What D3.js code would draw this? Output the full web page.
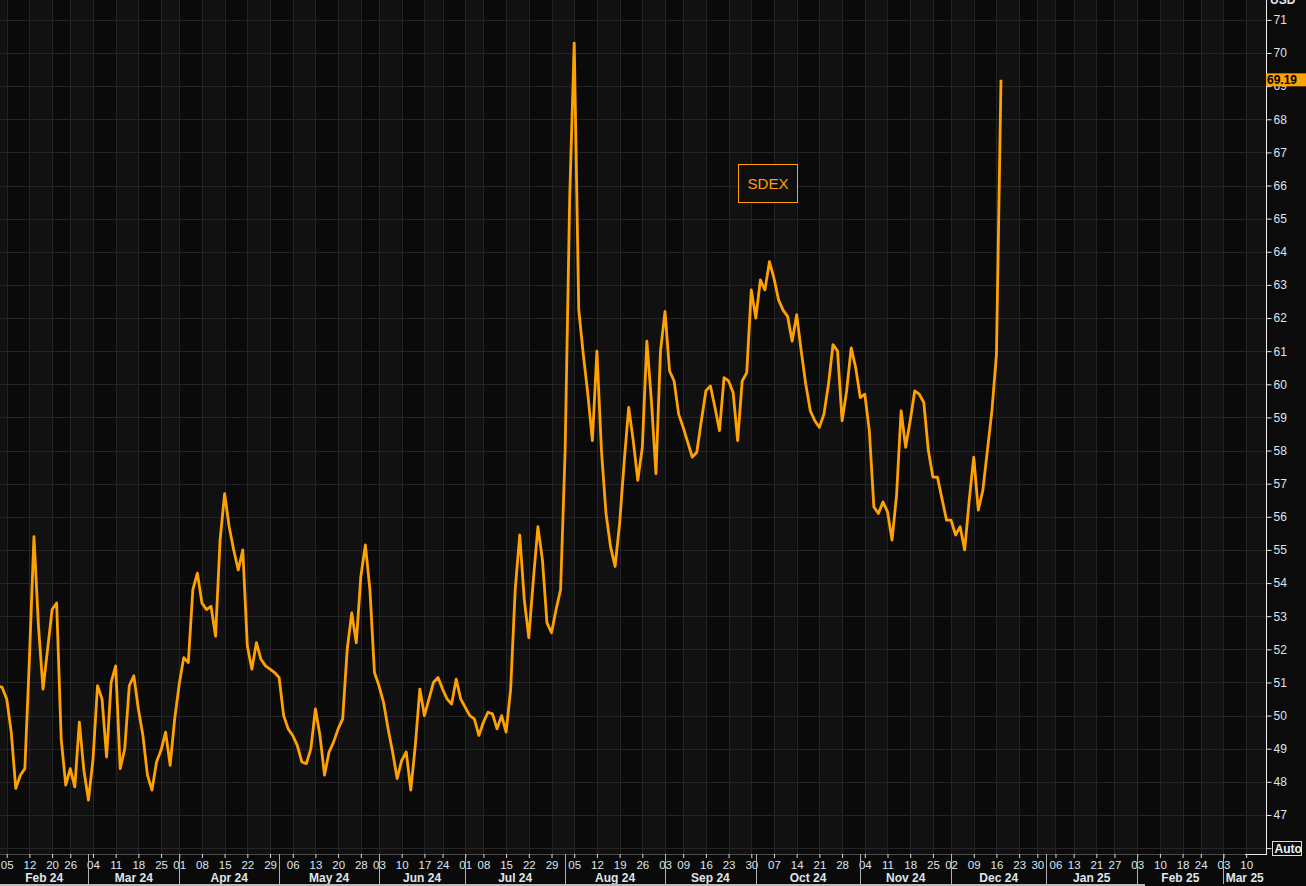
<!DOCTYPE html>
<html><head><meta charset="utf-8">
<script src="https://cdn.jsdelivr.net/npm/d3@7"></script>
<style>
html,body{margin:0;padding:0;background:#0b0b0b;overflow:hidden}
svg{display:block;font-family:"Liberation Sans",Arial,sans-serif}
</style></head><body>
<svg id="chart" width="1306" height="886"></svg>
<script>
const seriesName = "SDEX";
const currency = "USD";
const lastValueLabel = "69.19";
const startDate = "2024-02-01";
const endDate = "2025-03-14";
const holidays = ["2024-02-19","2024-03-29","2024-05-27","2024-06-19","2024-07-04","2024-09-02",
  "2024-11-28","2024-12-25","2025-01-01","2025-01-09","2025-01-20","2025-02-17"];

// one value per trading day starting 2024-02-01
const values = [
 50.9,50.85,50.5,49.5,47.8,48.2,48.4,51.7,55.4,52.7,
 50.8,52.0,53.2,53.4,49.3,47.9,48.4,47.85,49.8,48.35,
 47.45,48.66,50.9,50.5,48.75,51.0,51.5,48.4,49.0,50.9,
 51.2,50.2,49.4,48.2,47.75,48.6,48.96,49.5,48.5,49.9,
 50.95,51.75,51.6,53.8,54.3,53.4,53.2,53.3,52.4,55.3,
 56.7,55.7,55.0,54.4,55.0,52.1,51.4,52.2,51.7,51.5,
 51.4,51.3,51.15,50.0,49.6,49.4,49.1,48.6,48.55,49.0,
 50.2,49.4,48.2,48.9,49.2,49.6,49.9,52.0,53.1,52.2,
 54.2,55.15,53.8,51.3,50.9,50.4,49.6,48.9,48.1,48.65,
 48.9,47.75,49.1,50.8,50.0,50.5,51.0,51.15,50.8,50.5,
 50.35,51.1,50.5,50.25,50.0,49.9,49.4,49.8,50.1,50.05,
 49.6,50.0,49.5,50.8,53.8,55.45,53.5,52.35,54.1,55.7,
 54.7,52.8,52.5,53.2,53.8,58.0,65.6,70.3,62.25,60.9,
 59.7,58.3,61.0,58.0,56.1,55.1,54.5,55.8,57.65,59.3,
 58.3,57.1,58.1,61.3,59.5,57.3,61.0,62.2,60.4,60.1,
 59.1,58.7,58.25,57.8,57.95,58.9,59.8,59.95,59.3,58.6,
 60.2,60.1,59.75,58.3,60.1,60.35,62.85,62.0,63.15,62.85,
 63.7,63.2,62.55,62.24,62.05,61.3,62.1,61.0,60.0,59.2,
 58.9,58.7,59.1,60.0,61.2,61.0,58.9,59.8,61.1,60.5,
 59.6,59.7,58.6,56.3,56.1,56.45,56.15,55.3,56.65,59.2,
 58.1,58.9,59.8,59.7,59.45,58.0,57.2,57.2,56.55,55.9,
 55.9,55.45,55.7,55.0,56.5,57.8,56.2,56.8,58.0,59.2,
 60.9,69.19
];

const weekTicks = [
 "2024-02-05","2024-02-12","2024-02-20","2024-02-26",
 "2024-03-04","2024-03-11","2024-03-18","2024-03-25",
 "2024-04-01","2024-04-08","2024-04-15","2024-04-22","2024-04-29",
 "2024-05-06","2024-05-13","2024-05-20","2024-05-28",
 "2024-06-03","2024-06-10","2024-06-17","2024-06-24",
 "2024-07-01","2024-07-08","2024-07-15","2024-07-22","2024-07-29",
 "2024-08-05","2024-08-12","2024-08-19","2024-08-26",
 "2024-09-03","2024-09-09","2024-09-16","2024-09-23","2024-09-30",
 "2024-10-07","2024-10-14","2024-10-21","2024-10-28",
 "2024-11-04","2024-11-11","2024-11-18","2024-11-25",
 "2024-12-02","2024-12-09","2024-12-16","2024-12-23","2024-12-30",
 "2025-01-06","2025-01-13","2025-01-21","2025-01-27",
 "2025-02-03","2025-02-10","2025-02-18","2025-02-24",
 "2025-03-03","2025-03-10"
];
const monthLabels = ["Feb 24","Mar 24","Apr 24","May 24","Jun 24","Jul 24","Aug 24",
  "Sep 24","Oct 24","Nov 24","Dec 24","Jan 25","Feb 25","Mar 25"];
const yTicks = [46,47,48,49,50,51,52,53,54,55,56,57,58,59,60,61,62,63,64,65,66,67,68,69,70,71];

// ---- trading calendar ----
function tradingDays(start, end) {
  const hs = new Set(holidays), out = [];
  const d = new Date(start + "T00:00:00Z"), e = new Date(end + "T00:00:00Z");
  while (d <= e) {
    const wd = d.getUTCDay(), s = d.toISOString().slice(0, 10);
    if (wd !== 0 && wd !== 6 && !hs.has(s)) out.push(s);
    d.setUTCDate(d.getUTCDate() + 1);
  }
  return out;
}
const days = tradingDays(startDate, endDate);
const dayIndex = new Map(days.map((d, i) => [d, i]));

const W = 1306, H = 886;
const plotR = 1266, plotB = 854;
const x = d3.scaleLinear().domain([0.524, 279.37]).range([0, plotR]);
const y = d3.scaleLinear().domain([46, 71]).range([848.1, 19.87]);

const svg = d3.select("#chart");
svg.append("rect").attr("width", W).attr("height", H).attr("fill", "#0b0b0b");

const tickIdx = weekTicks.map(d => dayIndex.get(d));
const plot = svg.append("g");

// alternating weekly bands
const bandEdges = [0, ...tickIdx.map(i => x(i)), plotR];
for (let k = 0; k < bandEdges.length - 1; k++) {
  plot.append("rect")
    .attr("x", bandEdges[k]).attr("y", 0)
    .attr("width", bandEdges[k + 1] - bandEdges[k]).attr("height", plotB)
    .attr("fill", k % 2 === 0 ? "#111111" : "#0a0a0a");
}
// grid
plot.selectAll("line.hg").data(yTicks).join("line")
  .attr("x1", 0).attr("x2", plotR)
  .attr("y1", d => Math.round(y(d)) + 0.5).attr("y2", d => Math.round(y(d)) + 0.5)
  .attr("stroke", "#242424").attr("stroke-width", 1);
plot.selectAll("line.vg").data(tickIdx).join("line")
  .attr("x1", d => Math.round(x(d)) + 0.5).attr("x2", d => Math.round(x(d)) + 0.5)
  .attr("y1", 0).attr("y2", plotB)
  .attr("stroke", "#242424").attr("stroke-width", 1);

// series line
svg.append("defs").append("clipPath").attr("id", "clip")
  .append("rect").attr("x", 0).attr("y", 0).attr("width", plotR).attr("height", plotB);
const line = d3.line().x((d, i) => x(i)).y(d => y(d));
svg.append("path").datum(values)
  .attr("clip-path", "url(#clip)")
  .attr("d", line).attr("fill", "none")
  .attr("stroke", "#ffa200").attr("stroke-width", 2.8)
  .attr("stroke-linejoin", "round");

// legend box
const lg = svg.append("g");
lg.append("rect").attr("x", 738.5).attr("y", 164.5).attr("width", 59).attr("height", 38)
  .attr("fill", "#0f0f0f").attr("stroke", "#ffa200").attr("stroke-width", 1);
lg.append("text").attr("x", 768).attr("y", 189).attr("text-anchor", "middle")
  .attr("fill", "#ffa200").attr("font-size", 15).text(seriesName);

// x axis
const txtCol = "#dfe5ee";
svg.append("rect").attr("x", 0).attr("y", plotB).attr("width", W).attr("height", H - plotB).attr("fill", "#0a0a0a");
svg.append("line").attr("x1", 0).attr("x2", plotR).attr("y1", plotB + 0.5).attr("y2", plotB + 0.5)
  .attr("stroke", "#4a4a4a");
svg.append("line").attr("x1", 1245).attr("x2", plotR).attr("y1", plotB + 0.5).attr("y2", plotB + 0.5)
  .attr("stroke", "#e8e8e8");
const xAxis = d3.axisBottom(x).tickValues(tickIdx).tickSize(4).tickPadding(3)
  .tickFormat(i => days[i].slice(8, 10));
const gx = svg.append("g").attr("transform", `translate(0,${plotB})`).call(xAxis);
gx.select(".domain").remove();
gx.selectAll(".tick line").attr("stroke", "#d8d8d8");
gx.selectAll(".tick text").attr("fill", txtCol).attr("font-size", 11.5)
  .attr("font-family", "Liberation Sans, Arial, sans-serif");

// month separators and labels
const monthStart = [];
days.forEach((d, i) => { if (i === 0 || d.slice(0, 7) !== days[i - 1].slice(0, 7)) monthStart.push(i); });
const mEdges = monthStart.map(i => x(i));
mEdges.push(plotR);
mEdges.slice(1, monthLabels.length).forEach(px => {
  svg.append("line").attr("x1", Math.round(px) + 0.5).attr("x2", Math.round(px) + 0.5)
    .attr("y1", plotB).attr("y2", 884).attr("stroke", "#b0b0b0");
});
monthLabels.forEach((lab, k) => {
  const cx = (Math.max(mEdges[k], 0) + mEdges[k + 1]) / 2;
  svg.append("text").attr("x", cx).attr("y", 882).attr("text-anchor", "middle")
    .attr("fill", txtCol).attr("font-size", 12).attr("font-weight", "bold").text(lab);
});
svg.append("rect").attr("x", 0).attr("y", 884).attr("width", 1145).attr("height", 2).attr("fill", "#bdbdbd");

// y axis (right)
svg.append("rect").attr("x", plotR).attr("y", 0).attr("width", W - plotR).attr("height", H - 32).attr("fill", "#0b0b0b");
const yAxis = d3.axisRight(y).tickValues(yTicks).tickSize(5).tickPadding(2)
  .tickFormat(d => d === 46 ? "" : d);
const gy = svg.append("g").attr("transform", `translate(${plotR + 0.5},0)`).call(yAxis);
gy.select(".domain").remove();
gy.selectAll(".tick line").attr("stroke", "#e8e8e8");
gy.selectAll(".tick text").attr("fill", txtCol).attr("font-size", 12)
  .attr("font-family", "Liberation Sans, Arial, sans-serif");
svg.append("line").attr("x1", plotR + 0.5).attr("x2", plotR + 0.5).attr("y1", 0).attr("y2", plotB + 1)
  .attr("stroke", "#f0f0f0");
svg.append("text").attr("x", 1270).attr("y", 4).attr("fill", txtCol).attr("font-size", 12)
  .attr("font-weight", "bold").text(currency);

// last value tag
const lastY = y(values[values.length - 1]);
svg.append("rect").attr("x", plotR).attr("y", lastY - 6.5).attr("width", W - plotR).attr("height", 13)
  .attr("fill", "#ffa200");
svg.append("text").attr("x", plotR + 1).attr("y", lastY + 4.5).attr("fill", "#000")
  .attr("font-size", 12).attr("font-weight", "bold").text(lastValueLabel);

// Auto box
svg.append("rect").attr("x", 1272.5).attr("y", 841.5).attr("width", 29).attr("height", 14)
  .attr("fill", "#0b0b0b").attr("stroke", "#dcdcdc");
svg.append("text").attr("x", 1274.5).attr("y", 853).attr("fill", "#eef2f6").attr("font-size", 12)
  .attr("font-weight", "bold").text("Auto");
</script>
</body></html>
